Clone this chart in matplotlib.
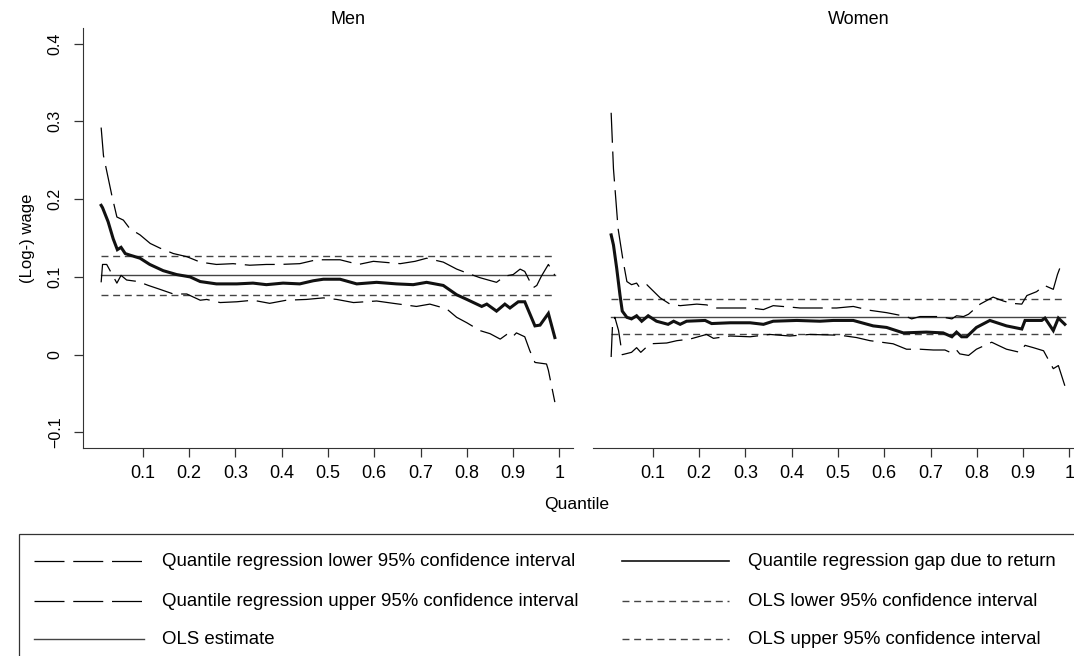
import matplotlib.pyplot as plt
from matplotlib.lines import Line2D
from matplotlib.patches import Rectangle
from matplotlib.ticker import FuncFormatter

plt.rcParams['font.family'] = ['Liberation Sans', 'DejaVu Sans']

## Men
men_q_est = [0.01, 0.013, 0.025, 0.036, 0.045, 0.053, 0.062, 0.072, 0.094, 0.115, 0.144, 0.173, 0.202,
             0.224, 0.259, 0.303, 0.338, 0.367, 0.403, 0.439, 0.468, 0.490, 0.526, 0.562, 0.605, 0.648,
             0.684, 0.713, 0.749, 0.778, 0.800, 0.832, 0.843, 0.864, 0.882, 0.893, 0.911, 0.925, 0.947,
             0.958, 0.976, 0.99]
men_est = [0.192, 0.189, 0.171, 0.149, 0.135, 0.138, 0.130, 0.128, 0.124, 0.116, 0.108, 0.103, 0.100,
           0.094, 0.091, 0.091, 0.092, 0.090, 0.092, 0.091, 0.095, 0.097, 0.097, 0.091, 0.093, 0.091,
           0.090, 0.093, 0.089, 0.077, 0.071, 0.062, 0.065, 0.056, 0.065, 0.060, 0.068, 0.068, 0.037,
           0.038, 0.053, 0.022]

men_q_up = [0.01, 0.015, 0.033, 0.044, 0.058, 0.072, 0.094, 0.116, 0.137, 0.166, 0.195, 0.224, 0.259,
            0.295, 0.331, 0.367, 0.396, 0.439, 0.475, 0.526, 0.566, 0.598, 0.656, 0.688, 0.713, 0.749,
            0.778, 0.800, 0.828, 0.846, 0.864, 0.882, 0.900, 0.915, 0.925, 0.943, 0.951, 0.961, 0.976,
            0.99]
men_up = [0.292, 0.256, 0.205, 0.177, 0.173, 0.162, 0.154, 0.143, 0.137, 0.130, 0.126, 0.119, 0.116,
          0.117, 0.115, 0.116, 0.116, 0.117, 0.122, 0.122, 0.116, 0.120, 0.117, 0.120, 0.124, 0.119,
          0.110, 0.105, 0.099, 0.096, 0.093, 0.101, 0.103, 0.110, 0.107, 0.086, 0.089, 0.101, 0.116,
          0.102]

men_q_lo = [0.01, 0.013, 0.022, 0.044, 0.053, 0.065, 0.090, 0.112, 0.137, 0.166, 0.195, 0.224, 0.238,
            0.267, 0.303, 0.338, 0.374, 0.410, 0.453, 0.490, 0.519, 0.555, 0.605, 0.641, 0.691, 0.720,
            0.756, 0.778, 0.800, 0.828, 0.850, 0.872, 0.886, 0.897, 0.907, 0.925, 0.936, 0.947, 0.972,
            0.976, 0.99]
men_lo = [0.093, 0.116, 0.116, 0.092, 0.102, 0.096, 0.094, 0.089, 0.084, 0.078, 0.078, 0.070, 0.071,
          0.067, 0.068, 0.070, 0.066, 0.070, 0.071, 0.073, 0.071, 0.067, 0.069, 0.066, 0.062, 0.065,
          0.059, 0.048, 0.041, 0.031, 0.027, 0.020, 0.026, 0.022, 0.028, 0.023, 0.005, -0.010, -0.012,
          -0.020, -0.061]

men_ols = 0.102
men_ols_lo = 0.077
men_ols_up = 0.127

## Women
women_q_est = [0.01, 0.015, 0.022, 0.029, 0.034, 0.044, 0.054, 0.065, 0.076, 0.090, 0.108, 0.133, 0.145,
               0.159, 0.173, 0.213, 0.227, 0.267, 0.310, 0.339, 0.360, 0.411, 0.461, 0.490, 0.533, 0.576,
               0.605, 0.641, 0.691, 0.727, 0.746, 0.756, 0.767, 0.778, 0.799, 0.828, 0.864, 0.897, 0.904,
               0.940, 0.947, 0.965, 0.976, 0.99]
women_est = [0.154, 0.141, 0.111, 0.077, 0.056, 0.048, 0.046, 0.050, 0.043, 0.050, 0.043, 0.039, 0.043,
             0.039, 0.043, 0.044, 0.040, 0.041, 0.041, 0.039, 0.043, 0.044, 0.043, 0.044, 0.044, 0.037,
             0.035, 0.028, 0.029, 0.028, 0.023, 0.029, 0.023, 0.023, 0.035, 0.044, 0.037, 0.033, 0.044,
             0.044, 0.047, 0.031, 0.047, 0.039]

women_q_up = [0.01, 0.015, 0.025, 0.036, 0.044, 0.054, 0.065, 0.072, 0.087, 0.116, 0.137, 0.159, 0.195,
              0.216, 0.238, 0.310, 0.339, 0.360, 0.400, 0.418, 0.461, 0.497, 0.533, 0.569, 0.605, 0.648,
              0.659, 0.677, 0.720, 0.746, 0.756, 0.771, 0.782, 0.807, 0.835, 0.857, 0.875, 0.897, 0.908,
              0.929, 0.946, 0.965, 0.974, 0.979, 0.99]
women_up = [0.311, 0.239, 0.162, 0.120, 0.094, 0.090, 0.092, 0.086, 0.090, 0.073, 0.065, 0.063, 0.065,
            0.064, 0.060, 0.060, 0.058, 0.063, 0.061, 0.060, 0.060, 0.060, 0.062, 0.057, 0.054, 0.049,
            0.046, 0.049, 0.049, 0.046, 0.050, 0.049, 0.052, 0.065, 0.074, 0.069, 0.066, 0.065, 0.076,
            0.081, 0.089, 0.084, 0.103, 0.111, 0.116]

women_q_lo = [0.01, 0.013, 0.018, 0.026, 0.034, 0.054, 0.065, 0.074, 0.094, 0.130, 0.152, 0.180, 0.216,
              0.231, 0.267, 0.310, 0.353, 0.396, 0.439, 0.504, 0.540, 0.569, 0.594, 0.619, 0.648, 0.677,
              0.706, 0.731, 0.746, 0.756, 0.763, 0.782, 0.799, 0.832, 0.846, 0.864, 0.893, 0.904, 0.922,
              0.944, 0.965, 0.976, 0.99]
women_lo = [-0.003, 0.039, 0.048, 0.031, 0.000, 0.003, 0.009, 0.003, 0.014, 0.015, 0.018, 0.020, 0.026,
            0.021, 0.024, 0.023, 0.026, 0.024, 0.026, 0.025, 0.022, 0.018, 0.016, 0.014, 0.007, 0.007,
            0.006, 0.006, 0.002, 0.006, 0.001, -0.001, 0.007, 0.016, 0.012, 0.007, 0.003, 0.012, 0.009,
            0.005, -0.018, -0.014, -0.040]

women_ols = 0.049
women_ols_lo = 0.027
women_ols_up = 0.072

q_range = [0.01, 0.99]
x_ticks = [0.1, 0.2, 0.3, 0.4, 0.5, 0.6, 0.7, 0.8, 0.9, 1]
y_ticks = [-0.1, 0, 0.1, 0.2, 0.3, 0.4]

legend_labels = ["Quantile regression lower 95% confidence interval",
                 "Quantile regression upper 95% confidence interval",
                 "OLS estimate",
                 "Quantile regression gap due to return",
                 "OLS lower 95% confidence interval",
                 "OLS upper 95% confidence interval"]

W, H = 1074, 656
FS = 13
OLS_COL = '#444444'
LONG = (0, (24, 7))
SHORT = (0, (5, 3.4))

fig = plt.figure(figsize=(W / 100, H / 100), dpi=100)


def px_box(left, top, right, bottom):
    return [left / W, 1 - bottom / H, (right - left) / W, (bottom - top) / H]


def draw_panel(ax, title, title_x, q_est, est, q_up, up, q_lo, lo, ols, ols_lo, ols_up):
    ax.plot(q_range, [ols, ols], color=OLS_COL, lw=1.0)
    ax.plot(q_range, [ols_lo, ols_lo], color=OLS_COL, lw=1.0, linestyle=SHORT)
    ax.plot(q_range, [ols_up, ols_up], color=OLS_COL, lw=1.0, linestyle=SHORT)
    ax.plot(q_up, up, color='black', lw=0.9, linestyle=LONG)
    ax.plot(q_lo, lo, color='black', lw=0.9, linestyle=LONG)
    ax.plot(q_est, est, color='#111111', lw=2.2, solid_joinstyle='miter')

    ax.set_xlim(-0.0292, 1.0292)
    ax.set_ylim(-0.12, 0.42)
    ax.set_xticks(x_ticks)
    ax.xaxis.set_major_formatter(FuncFormatter(lambda v, p: '%g' % v))
    ax.tick_params(axis='x', direction='out', length=6.5, width=0.9, pad=6, labelsize=FS, color='#333333')
    for s in ['top', 'right']:
        ax.spines[s].set_visible(False)
    ax.spines['bottom'].set_color('#333333')
    ax.spines['left'].set_color('#333333')
    ax.set_title(title, x=title_x, fontsize=FS, pad=0)


ax1 = fig.add_axes(px_box(83, 28, 573, 448))
draw_panel(ax1, "Men", (348 - 83) / 490, men_q_est, men_est, men_q_up, men_up, men_q_lo, men_lo,
           men_ols, men_ols_lo, men_ols_up)
ax1.set_yticks(y_ticks)
ax1.yaxis.set_major_formatter(FuncFormatter(lambda v, p: ('%g' % v).replace('-', '\u2212')))
ax1.tick_params(axis='y', direction='out', length=6.5, width=0.9, pad=8, labelsize=11.5,
                labelrotation=90, color='#333333')
for lab in ax1.get_yticklabels():
    lab.set_va('center')
ax1.set_ylabel("(Log-) wage", fontsize=12, labelpad=9)

ax2 = fig.add_axes(px_box(593, 28, 1083, 448))
draw_panel(ax2, "Women", (859 - 593) / 490, women_q_est, women_est, women_q_up, women_up,
           women_q_lo, women_lo, women_ols, women_ols_lo, women_ols_up)
ax2.set_yticks([])
ax2.spines['left'].set_visible(False)

fig.text(577 / W, 1 - 505 / H, "Quantile", ha='center', va='center', fontsize=12.6)

## Legend box, drawn by hand so it runs off the right and bottom edges like the original
fig.add_artist(Rectangle((19 / W, -0.05), 1.1, 1 - 534 / H + 0.05, transform=fig.transFigure,
                         fill=False, edgecolor='#333333', lw=0.9, clip_on=False))

legend_styles = [(LONG, 'black', 0.9), (LONG, 'black', 0.9), ('-', OLS_COL, 1.0),
                 ('-', '#111111', 1.2), (SHORT, OLS_COL, 1.0), (SHORT, OLS_COL, 1.0)]
row_y = [561, 601, 639]
for i, (label, (ls, col, lw)) in enumerate(zip(legend_labels, legend_styles)):
    y = 1 - row_y[i % 3] / H
    if i < 3:
        x0, x1, xt = 34, 144, 162
    else:
        x0, x1, xt = 622, 729, 748
    fig.add_artist(Line2D([x0 / W, x1 / W], [y, y], transform=fig.transFigure,
                          linestyle=ls, color=col, lw=lw))
    fig.text(xt / W, y, label, ha='left', va='center', fontsize=13.4)

fig.savefig("out.png", dpi=100)
